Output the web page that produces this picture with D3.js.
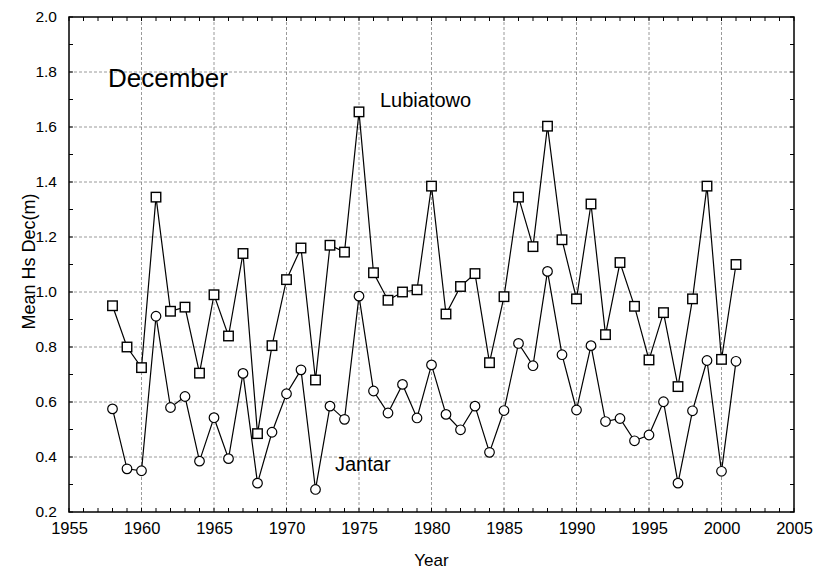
<!DOCTYPE html>
<html><head><meta charset="utf-8">
<script src="https://cdn.jsdelivr.net/npm/d3@7/dist/d3.min.js"></script>
<style>body{margin:0;background:#fff;} text{font-family:Arial,"Liberation Sans",sans-serif;fill:#000;}</style>
</head><body><svg id="c" width="818" height="571"></svg>
<script>
const years = d3.range(1958, 2002);
const lubiatowo = [0.95,0.80,0.725,1.345,0.93,0.945,0.705,0.99,0.84,1.14,0.485,0.805,1.045,1.16,0.68,1.17,1.145,1.655,1.07,0.97,1.0,1.008,1.385,0.92,1.02,1.067,0.743,0.983,1.345,1.165,1.603,1.19,0.975,1.32,0.845,1.107,0.948,0.753,0.925,0.656,0.975,1.385,0.755,1.1];
const jantar = [0.575,0.357,0.35,0.912,0.58,0.62,0.385,0.543,0.394,0.704,0.305,0.49,0.63,0.717,0.282,0.585,0.537,0.985,0.64,0.56,0.664,0.542,0.735,0.555,0.499,0.585,0.417,0.569,0.813,0.732,1.075,0.772,0.571,0.805,0.529,0.54,0.459,0.48,0.601,0.305,0.568,0.751,0.348,0.748];
const xTicks = [1955,1960,1965,1970,1975,1980,1985,1990,1995,2000,2005];
const yTicks = [0.2,0.4,0.6,0.8,1.0,1.2,1.4,1.6,1.8,2.0];

const svg = d3.select("#c");
const L=69, R=794, T=17, B=512;
const x = d3.scaleLinear().domain([1955,2005]).range([L,R]);
const y = d3.scaleLinear().domain([0.2,2.0]).range([B,T]);

// grid
const g = svg.append("g");
g.selectAll(".gx").data(xTicks.slice(1,-1)).enter().append("line")
  .attr("x1",d=>x(d)).attr("x2",d=>x(d)).attr("y1",T).attr("y2",B)
  .attr("stroke","#808080").attr("stroke-width",0.8).attr("stroke-dasharray","3,2");
g.selectAll(".gy").data(yTicks.slice(1,-1)).enter().append("line")
  .attr("y1",d=>y(d)).attr("y2",d=>y(d)).attr("x1",L).attr("x2",R)
  .attr("stroke","#808080").attr("stroke-width",0.8).attr("stroke-dasharray","3,2");

// axes
const minorX = d3.range(1955,2006);
const minorY = d3.range(2,21).map(v=>v/10);
const ax = svg.append("g").attr("transform",`translate(0,${B})`)
  .call(d3.axisBottom(x).tickValues(xTicks).tickFormat(d3.format("d")).tickSize(0).tickPadding(10));
ax.select(".domain").remove();
ax.selectAll("text").attr("font-size",16.5).attr("font-family","Arial, Liberation Sans");
const ay = svg.append("g").attr("transform",`translate(${L},0)`)
  .call(d3.axisLeft(y).tickValues(yTicks).tickFormat(d3.format(".1f")).tickSize(0).tickPadding(12));
ay.select(".domain").remove();
ay.selectAll("text").attr("font-size",15.5).attr("font-family","Arial, Liberation Sans");

// minor tick marks inward
const tk = svg.append("g").attr("stroke","#000").attr("stroke-width",1);
minorX.forEach(v=>{
  tk.append("line").attr("x1",x(v)).attr("x2",x(v)).attr("y1",B).attr("y2",B-4);
  tk.append("line").attr("x1",x(v)).attr("x2",x(v)).attr("y1",T).attr("y2",T+4);
});
minorY.forEach(v=>{
  tk.append("line").attr("y1",y(v)).attr("y2",y(v)).attr("x1",L).attr("x2",L+4);
  tk.append("line").attr("y1",y(v)).attr("y2",y(v)).attr("x1",R).attr("x2",R-4);
});
svg.append("rect").attr("x",L).attr("y",T).attr("width",R-L).attr("height",B-T)
  .attr("fill","none").attr("stroke","#000").attr("stroke-width",1.5);

// lines
const line = d3.line().x((d,i)=>x(years[i])).y(d=>y(d));
[lubiatowo, jantar].forEach(s=>{
  svg.append("path").datum(s).attr("d",line).attr("fill","none").attr("stroke","#000").attr("stroke-width",1.2);
});
const sq = 9.5;
svg.append("g").selectAll("rect").data(lubiatowo).enter().append("rect")
  .attr("x",(d,i)=>x(years[i])-sq/2).attr("y",d=>y(d)-sq/2).attr("width",sq).attr("height",sq)
  .attr("fill","#fff").attr("stroke","#000").attr("stroke-width",1.4);
svg.append("g").selectAll("circle").data(jantar).enter().append("circle")
  .attr("cx",(d,i)=>x(years[i])).attr("cy",d=>y(d)).attr("r",4.8)
  .attr("fill","#fff").attr("stroke","#000").attr("stroke-width",1.2);

// labels
svg.append("text").attr("x",108).attr("y",87).attr("font-size",26).text("December");
svg.append("text").attr("x",380).attr("y",107).attr("font-size",20).text("Lubiatowo");
svg.append("text").attr("x",335).attr("y",471).attr("font-size",20).text("Jantar");
svg.append("text").attr("x",(L+R)/2).attr("y",566).attr("font-size",17).attr("text-anchor","middle").text("Year");
svg.append("text").attr("transform",`translate(35,${(T+B)/2 - 3}) rotate(-90)`).attr("font-size",18)
  .attr("text-anchor","middle").text("Mean Hs Dec(m)");
</script></body></html>
